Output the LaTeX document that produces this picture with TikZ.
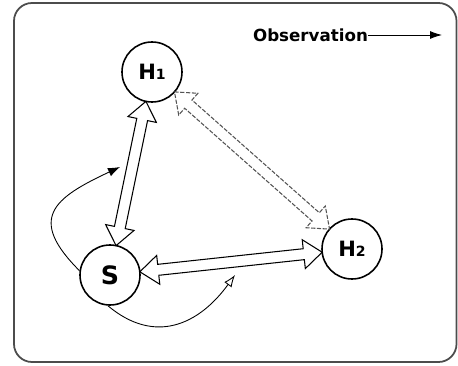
\documentclass[tikz,border=0pt]{standalone}
\usepackage{fontspec}
\setmainfont{DejaVu Sans}
\usetikzlibrary{arrows.meta,calc}
\tikzset{
  hstate/.style={draw,line width=0.9pt,circle,minimum size=12mm,inner sep=0pt,font=\bfseries\large},
  hframe/.style={draw=gray!60!black,line width=1pt,rounded corners=3.6mm},
  hlab/.style={font=\bfseries\fontsize{9.5}{11}\selectfont,inner sep=0pt},
  hloop/.style={line width=0.5pt,-{Latex[length=2.4mm,width=1.8mm]}},
  hloopO/.style={line width=0.5pt,-{Latex[open,length=2.4mm,width=1.8mm]}},
  hobs/.style={line width=0.5pt,-{Latex[length=2.4mm,width=1.6mm]}},
  hdbl/.style={line width=0.6pt,line join=miter},
  hdblD/.style={hdbl,gray!65!black,dash pattern=on 2.4pt off 0.9pt},
}
\newcommand{\hdarrow}[3]{% #1 = style, #2 = from node, #3 = to node
  \coordinate (tA) at ($(#2)!0.6cm!(#3)$);
  \coordinate (tB) at ($(#3)!0.6cm!(#2)$);
  \coordinate (hA) at ($(tA)!0.37cm!(tB)$);
  \coordinate (hB) at ($(tB)!0.37cm!(tA)$);
  \draw[#1] (tA) -- ($(hA)!0.29cm!90:(tB)$) -- ($(hA)!0.11cm!90:(tB)$)
    -- ($(hB)!0.11cm!-90:(tA)$) -- ($(hB)!0.29cm!-90:(tA)$) -- (tB)
    -- ($(hB)!0.29cm!90:(tA)$) -- ($(hB)!0.11cm!90:(tA)$)
    -- ($(hA)!0.11cm!-90:(tB)$) -- ($(hA)!0.29cm!-90:(tB)$) -- cycle;}
\begin{document}
\begin{tikzpicture}
\useasboundingbox (0,0) rectangle (9.16,7.30);
\draw[hframe] (0.28,0.06) rectangle (9.13,7.24);
%% the three states
\node[hstate] (H1) at (3.04,5.86) {H{\footnotesize 1}};
\node[hstate,font=\bfseries\Large] (S) at (2.20,1.80) {S};
\node[hstate] (H2) at (7.04,2.32) {H{\footnotesize 2}};
%% observation direction, top right
\node[hlab] (obs) at (6.21,6.60) {Observation};
\coordinate (obsend) at (8.84,6.60);
\draw[hobs] (obs.east) -- (obsend);
%% hollow two-way arrows between the states
\hdarrow{hdbl}{S}{H1}
\hdarrow{hdbl}{S}{H2}
\hdarrow{hdblD}{H1}{H2}
%% the two loose arrows leaving S
\coordinate (loopA) at (2.40,3.96);
\coordinate (loopB) at (4.70,1.80);
\draw[hloop] (S.172) to[out=135,in=205,looseness=1.7] (loopA);
\draw[hloopO] (S.266) to[out=-40,in=234,looseness=1.2] (loopB);
\end{tikzpicture}
\end{document}
